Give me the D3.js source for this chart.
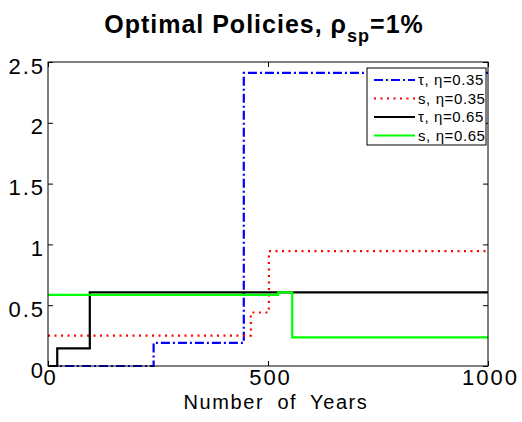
<!DOCTYPE html>
<html lang="en">
<head>
<meta charset="UTF-8">
<title>Optimal Policies</title>
<style>
  body { margin: 0; background: #fff; }
  svg { display: block; font-family: 'Liberation Sans', Arial, sans-serif; }
</style>
</head>
<body>
<svg id="chart" width="522" height="422"></svg>
<script src="https://d3js.org/d3.v7.min.js"></script>
<script>
// step series: year where each level starts, and level value
const tauLowYears = [0, 240, 445];
const tauLowVals = [0, 0.19, 2.41];
const sLowYears = [0, 461, 502];
const sLowVals = [0.25, 0.44, 0.945];
const tauHighYears = [0, 21, 95];
const tauHighVals = [0, 0.145, 0.605];
const sHighYears = [0, 523, 555];
const sHighVals = [0.585, 0.605, 0.235];

const xTicks = [0, 500, 1000];
const yTicks = [0, 0.5, 1, 1.5, 2, 2.5];
const legendLabels = ["τ, η=0.35", "s, η=0.35", "τ, η=0.65", "s, η=0.65"];

const series = [
  { years: tauLowYears, vals: tauLowVals, color: "#0000ff", dash: "9,3,2,3" },
  { years: sLowYears, vals: sLowVals, color: "#ff0000", dash: "2,4.5" },
  { years: tauHighYears, vals: tauHighVals, color: "#000000", dash: null },
  { years: sHighYears, vals: sHighVals, color: "#00ff00", dash: null }
];

const svg = d3.select("#chart");
const m = { left: 48, right: 488, top: 62, bottom: 366 };
const x = d3.scaleLinear().domain([0, 1000]).range([m.left, m.right]);
const y = d3.scaleLinear().domain([0, 2.5]).range([m.bottom, m.top]);

svg.append("defs").append("clipPath").attr("id", "clip")
  .append("rect").attr("x", m.left).attr("y", m.top - 2)
  .attr("width", m.right - m.left).attr("height", m.bottom - m.top + 4);

// title
const title = svg.append("text")
  .attr("x", 264).attr("y", 33)
  .attr("text-anchor", "middle")
  .attr("font-weight", "bold").attr("font-size", 25)
  .attr("letter-spacing", 1)
  .text("Optimal Policies, ρ");
title.append("tspan").attr("dy", 9).attr("font-size", 18).text("sp");
title.append("tspan").attr("dy", -9).text("=1%");

// axes with inward ticks
const tick = 5;
const fmt = d3.format("d");
svg.append("g").attr("transform", `translate(0,${m.bottom})`)
  .call(d3.axisBottom(x).tickValues(xTicks).tickSizeInner(-tick).tickSizeOuter(0).tickPadding(3).tickFormat(fmt))
  .call(g => g.select(".domain").remove())
  .call(g => g.selectAll("text").attr("font-size", 22).attr("letter-spacing", 2).attr("fill", "#000").attr("font-family", null).attr("dx", 2))
  .call(g => g.selectAll("line").attr("stroke", "#000"));
svg.append("g").attr("transform", `translate(0,${m.top})`)
  .call(d3.axisTop(x).tickValues(xTicks).tickSizeInner(-tick).tickSizeOuter(0).tickFormat(""))
  .call(g => g.select(".domain").remove());
svg.append("g").attr("transform", `translate(${m.left},0)`)
  .call(d3.axisLeft(y).tickValues(yTicks).tickSizeInner(-tick).tickSizeOuter(0).tickPadding(3).tickFormat(d3.format("~g")))
  .call(g => g.select(".domain").remove())
  .call(g => g.selectAll("text").attr("font-size", 22).attr("letter-spacing", 2).attr("fill", "#000").attr("font-family", null).attr("dy", "0.5em"))
  .call(g => g.selectAll("line").attr("stroke", "#000"));
svg.append("g").attr("transform", `translate(${m.right},0)`)
  .call(d3.axisRight(y).tickValues(yTicks).tickSizeInner(-tick).tickSizeOuter(0).tickFormat(""))
  .call(g => g.select(".domain").remove());

// lines
const line = d3.line().x(d => x(d[0])).y(d => y(d[1])).curve(d3.curveStepAfter);
series.forEach(s => {
  const pts = s.years.map((yr, i) => [yr, s.vals[i]]);
  pts.push([1000, s.vals[s.vals.length - 1]]);
  svg.append("path")
    .attr("clip-path", "url(#clip)")
    .attr("d", line(pts))
    .attr("fill", "none")
    .attr("stroke", s.color)
    .attr("stroke-width", 2.2)
    .attr("stroke-dasharray", s.dash);
});

// frame
svg.append("rect")
  .attr("x", m.left).attr("y", m.top)
  .attr("width", m.right - m.left).attr("height", m.bottom - m.top)
  .attr("fill", "none").attr("stroke", "#000").attr("stroke-width", 1);

// x label
svg.append("text")
  .attr("x", 276).attr("y", 409)
  .attr("text-anchor", "middle").attr("font-size", 20)
  .attr("letter-spacing", 1.6).attr("word-spacing", 6)
  .text("Number of Years");

// legend
const lg = svg.append("g").attr("transform", "translate(367,68)");
lg.append("rect").attr("width", 119).attr("height", 77)
  .attr("fill", "#fff").attr("stroke", "#000").attr("stroke-width", 1);
series.forEach((s, i) => {
  const yy = 12 + i * 18.5;
  lg.append("line").attr("x1", 7).attr("x2", 48).attr("y1", yy).attr("y2", yy)
    .attr("stroke", s.color).attr("stroke-width", 2.2).attr("stroke-dasharray", s.dash);
  lg.append("text").attr("x", 51).attr("y", yy + 5)
    .attr("font-size", 15).attr("letter-spacing", 0.6).text(legendLabels[i]);
});
</script>
</body>
</html>
